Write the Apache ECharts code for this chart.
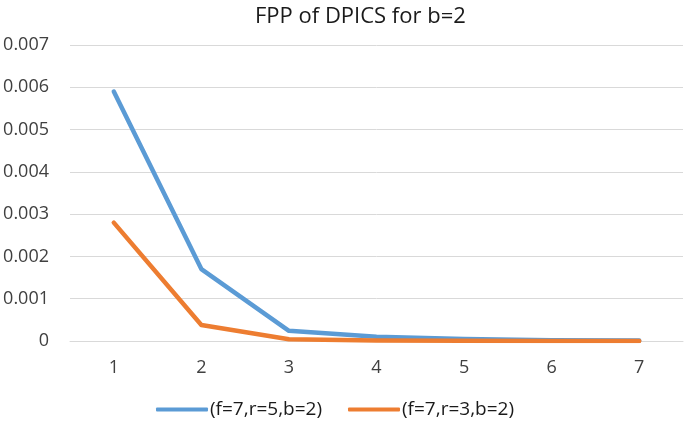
<!DOCTYPE html>
<html>
<head>
<meta charset="utf-8">
<script src="https://cdn.jsdelivr.net/npm/echarts@6/dist/echarts.min.js"></script>
<style>
  html, body { margin: 0; padding: 0; background: #fff; }
  #chart { width: 685px; height: 422px; }
</style>
</head>
<body>
<div id="chart"></div>
<script>
// category labels and the two series
const categories = ["1", "2", "3", "4", "5", "6", "7"];
const seriesNames = ["(f=7,r=5,b=2)", "(f=7,r=3,b=2)"];
const blueValues = [0.0059, 0.0017, 0.00024, 0.0001, 0.00005, 0.00002, 0.00001];
const orangeValues = [0.0028, 0.00038, 0.00004, 0.00001, 0.000005, 0.000002, 0.000001];

const colors = ["#5b9bd5", "#ed7d31", "#d9d9d9", "#404040"];
const font = "'Open Sans', sans-serif";

const myChart = echarts.init(document.getElementById("chart"));
myChart.setOption({
  animation: false,
  title: {
    text: "FPP of DPICS for b=2",
    left: 250,
    top: 1,
    textStyle: { fontFamily: font, fontSize: 22, fontWeight: "normal", color: "#1a1a1a" },
  },
  legend: {
    top: 395,
    left: 151,
    itemWidth: 52,
    itemHeight: 4,
    itemGap: 26,
    icon: "roundRect",
    textStyle: { fontFamily: font, fontSize: 19, color: "#1a1a1a", padding: [0, 0, 0, -3] },
    data: seriesNames,
  },
  grid: { left: 70, right: 2, top: 45, bottom: 81, outerBoundsMode: "none" },
  xAxis: {
    type: "category",
    data: categories,
    axisTick: { show: false },
    axisLine: { lineStyle: { color: colors[2] } },
    axisLabel: { fontFamily: font, fontSize: 18, color: colors[3], margin: 18 },
  },
  yAxis: {
    type: "value",
    min: 0,
    max: 0.007,
    interval: 0.001,
    axisLine: { show: false },
    axisTick: { show: false },
    axisLabel: {
      fontFamily: font,
      fontSize: 18,
      color: colors[3],
      margin: 21,
      formatter(v) {
        return v === 0 ? "0" : v.toFixed(3);
      },
    },
    splitLine: { lineStyle: { color: colors[2], width: 1 } },
  },
  series: [
    {
      name: seriesNames[0],
      type: "line",
      data: blueValues,
      showSymbol: false,
      symbol: "none",
      color: colors[0],
      lineStyle: { width: 4.5, color: colors[0], cap: "round", join: "round" },
    },
    {
      name: seriesNames[1],
      type: "line",
      data: orangeValues,
      showSymbol: false,
      symbol: "none",
      color: colors[1],
      lineStyle: { width: 4.5, color: colors[1], cap: "round", join: "round" },
    },
  ],
});
</script>
</body>
</html>
